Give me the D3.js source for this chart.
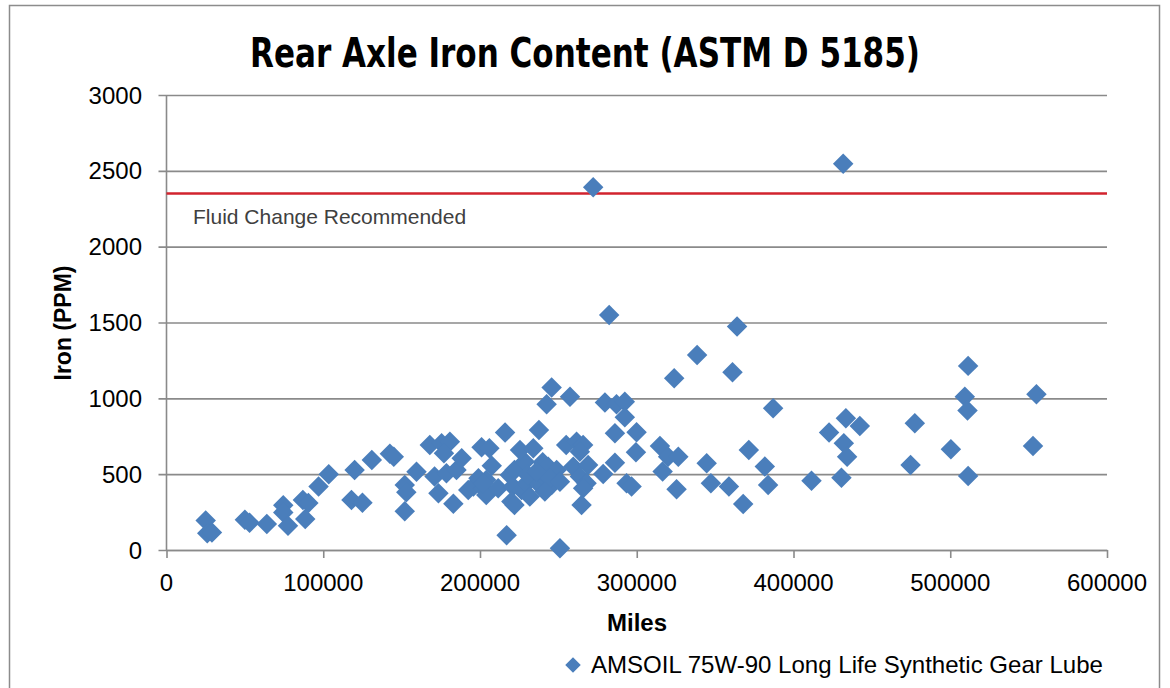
<!DOCTYPE html>
<html>
<head>
<meta charset="utf-8">
<script src="https://cdn.jsdelivr.net/npm/d3@7"></script>
<style>
html,body{margin:0;padding:0;background:#fff;}
svg{display:block;}
</style>
</head>
<body>
<svg id="chart" width="1170" height="688"></svg>
<script>
// ---- data ----
const miles = [
  25000, 26000, 29000, 50000, 53000, 64000, 74500, 74500, 77500, 87000, 90500, 88500, 97000, 103500,
  120000, 131000, 142500, 145000, 118000, 125000, 159500, 152000, 153000, 152000, 168000, 175500, 180800, 177000,
  173500, 171000, 178600, 185000, 183000, 188300, 192500, 195800,
  201000, 206000, 207500, 216000, 217000, 199000, 204000, 202000, 204000, 211600, 221000, 226500, 229700, 236000,
  241400, 245700, 220000, 222000, 231800, 219000, 222000, 228600, 240000, 243500, 225500, 234000, 242500, 245700,
  257400, 237600, 230600, 236000, 202000,
  255000, 261600, 265800, 263700, 248900, 259500, 269000, 244600, 251000, 263700, 268000, 265800, 241400, 293500,
  296700, 264800, 251000,
  272200, 282400, 279700, 287100, 292400, 292400, 286100, 299900, 299500, 286100, 278600, 314800, 320000, 326500,
  316500, 325400, 338500, 323900, 344600, 347300, 358800, 364000, 361100, 367900, 371500,
  387000, 381700, 383800, 411500, 422700, 433400, 442300, 432100, 434200, 430600, 477400, 474700, 500400, 511400,
  509300, 511000, 511400, 555000, 552800, 431700
];
const iron = [
  195, 110, 115, 200, 180, 172, 295, 248, 160, 330, 310, 205, 418, 500,
  528, 594, 635, 615, 330, 312, 516, 429, 380, 255, 693, 704, 714, 638,
  374, 484, 506, 528, 305, 605, 396, 418,
  678, 671, 555, 774, 98, 473, 462, 407, 363, 407, 418, 396, 440, 450,
  473, 429, 319, 297, 352, 495, 528, 582, 578, 549, 660, 671, 961, 1071,
  1011, 791, 495, 516, 440,
  693, 714, 693, 648, 528, 549, 561, 473, 450, 484, 440, 407, 385, 440,
  418, 297, 11,
  2392, 1550, 972, 961, 978, 875, 769, 776, 644, 576, 501, 686, 615, 615,
  517, 400, 1286, 1132, 572, 440, 418, 1473, 1172, 303, 659,
  935, 550, 429, 457, 774, 869, 818, 704, 615, 477, 836, 561, 664, 1214,
  1011, 919, 488, 1027, 686, 2546
];
const xTicks = [0, 100000, 200000, 300000, 400000, 500000, 600000];
const yTicks = [0, 500, 1000, 1500, 2000, 2500, 3000];
const thresholdValue = [2350];
const titleText = "Rear Axle Iron Content (ASTM D 5185)";
const thresholdLabel = "Fluid Change Recommended";
const seriesName = "AMSOIL 75W-90 Long Life Synthetic Gear Lube";

// ---- layout ----
const svg = d3.select("#chart");
const X0 = 166.5, X1 = 1107, Y0 = 550, Y1 = 95;
const x = d3.scaleLinear().domain([0, 600000]).range([X0, X1]);
const y = d3.scaleLinear().domain([0, 3000]).range([Y0, Y1]);
const gridColor = "#8a8a8a";
const markColor = "#4a7ebb";
const tickFont = "'Liberation Sans', Arial, sans-serif";

// outer border
svg.append("rect").attr("x", 9.5).attr("y", 5.5).attr("width", 1150).attr("height", 700)
  .attr("fill", "none").attr("stroke", "#8c8c8c").attr("stroke-width", 1.5);

// title
svg.append("text").attr("x", 585).attr("y", 67).attr("text-anchor", "middle")
  .attr("font-family", "'Liberation Sans Narrow', 'DejaVu Sans Condensed', 'Liberation Sans', sans-serif")
  .attr("font-weight", "bold").attr("font-size", 40)
  .attr("textLength", 670).attr("lengthAdjust", "spacingAndGlyphs")
  .attr("fill", "#000").text(titleText);

// horizontal gridlines (with outward tick)
const yAxis = d3.axisLeft(y).tickValues(yTicks).tickSize(-(X1 - X0)).tickSizeOuter(0).tickPadding(0)
  .tickFormat("");
const gy = svg.append("g").attr("transform", `translate(${X0},0)`).call(yAxis);
gy.select(".domain").remove();
gy.selectAll(".tick line").attr("x1", -8).attr("stroke", gridColor).attr("stroke-width", 1.6);

// y tick labels
svg.append("g").selectAll("text").data(yTicks).join("text")
  .attr("x", 142).attr("y", d => y(d) + 8.5).attr("text-anchor", "end")
  .attr("font-family", tickFont).attr("font-size", 24).attr("fill", "#000")
  .text(d => d);

// y axis line
svg.append("line").attr("x1", X0).attr("x2", X0).attr("y1", Y1).attr("y2", Y0)
  .attr("stroke", gridColor).attr("stroke-width", 1.6);

// x axis
const xAxis = d3.axisBottom(x).tickValues(xTicks).tickSize(8).tickSizeOuter(0).tickFormat("");
const gx = svg.append("g").attr("transform", `translate(0,${Y0})`).call(xAxis);
gx.select(".domain").attr("stroke", gridColor).attr("stroke-width", 1.6);
gx.selectAll(".tick line").attr("stroke", gridColor).attr("stroke-width", 1.6);

svg.append("g").selectAll("text").data(xTicks).join("text")
  .attr("x", d => x(d)).attr("y", 591).attr("text-anchor", "middle")
  .attr("font-family", tickFont).attr("font-size", 24).attr("fill", "#000")
  .text(d => d);

// threshold line
svg.append("g").selectAll("line").data(thresholdValue).join("line")
  .attr("x1", X0).attr("x2", X1).attr("y1", d => y(d)).attr("y2", d => y(d))
  .attr("stroke", "#d2232e").attr("stroke-width", 2.5);
svg.append("text").attr("x", 193).attr("y", 224)
  .attr("font-family", tickFont).attr("font-size", 21).attr("fill", "#404040")
  .text(thresholdLabel);

// axis titles
svg.append("text").attr("transform", "translate(71,323) rotate(-90)").attr("text-anchor", "middle")
  .attr("font-family", tickFont).attr("font-weight", "bold").attr("font-size", 23)
  .attr("fill", "#000").text("Iron (PPM)");
svg.append("text").attr("x", 637).attr("y", 631).attr("text-anchor", "middle")
  .attr("font-family", tickFont).attr("font-weight", "bold").attr("font-size", 24)
  .attr("fill", "#000").text("Miles");

// points
const diamond = d3.symbol().type(d3.symbolSquare).size(210);
const pts = miles.map((m, i) => ({m, v: iron[i]}));
svg.append("g").selectAll("path").data(pts).join("path")
  .attr("d", diamond)
  .attr("transform", d => `translate(${x(d.m)},${y(d.v)}) rotate(45)`)
  .attr("fill", markColor);

// legend
const lg = svg.append("g").attr("transform", "translate(573,665)");
lg.append("path").attr("d", d3.symbol().type(d3.symbolSquare).size(120)).attr("transform", "rotate(45)")
  .attr("fill", markColor);
svg.append("text").attr("x", 591).attr("y", 673)
  .attr("font-family", tickFont).attr("font-size", 24).attr("fill", "#000")
  .attr("textLength", 512).attr("lengthAdjust", "spacingAndGlyphs")
  .text(seriesName);
</script>
</body>
</html>
